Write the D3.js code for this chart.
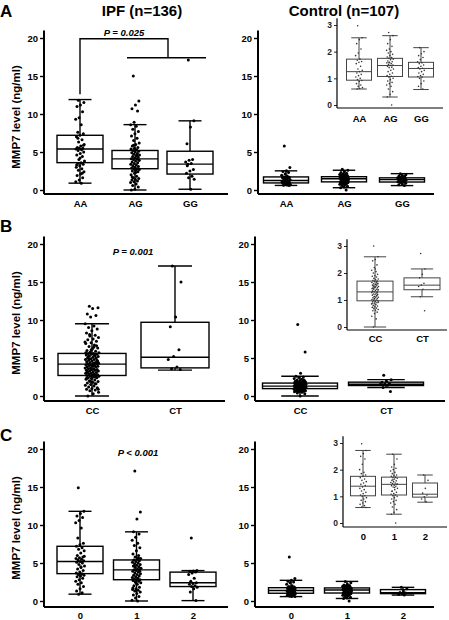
<!DOCTYPE html>
<html><head><meta charset="utf-8">
<script src="https://cdn.jsdelivr.net/npm/d3@7/dist/d3.min.js"></script>
<style>body{margin:0;background:#fff}svg{display:block}</style>
</head><body>
<svg id="c" width="449" height="620"></svg>
<script>
// ---------- DATA ----------
const catsA = ["AA","AG","GG"];
const catsB = ["CC","CT"];
const catsC = ["0","1","2"];
const yTicksMain = [0,5,10,15,20];
const yTicksInset = [0,1,2,3];
const titles = ["IPF (n=136)","Control (n=107)"];
const pLabels = ["P = 0.025","P = 0.001","P < 0.001"];

// box stats: [low whisker, Q1, median, Q3, high whisker]
const statsIpfA = [[0.9,3.6,5.4,7.2,11.9],[0,2.8,4.1,5.2,8.6],[0.1,2.1,3.4,5.1,9.1]];
const statsCtrlA = [[0.6,0.93,1.25,1.72,2.52],[0.3,1.07,1.48,1.75,2.6],[0.58,1.05,1.37,1.6,2.15]];
const statsIpfB = [[0,2.7,4.2,5.6,9.5],[3.4,3.7,5.1,9.7,17.1]];
const statsCtrlB = [[0,0.97,1.3,1.7,2.6],[1.12,1.38,1.55,1.82,2.15]];
const statsIpfC = [[0.9,3.6,5.2,7.2,11.8],[0,2.8,4.1,5.4,9.1],[0.05,1.9,2.4,3.8,4.0]];
const statsCtrlC = [[0.58,1.02,1.38,1.75,2.72],[0.33,1.05,1.45,1.72,2.58],[0.78,0.97,1.08,1.5,1.8]];

// individual values
const ipfAA = [11.8,11.5,11.2,11.0,10.3,9.5,9.3,8.6,7.6,7.4,7.2,7.0,6.6,6.3,6.0,5.8,5.6,5.5,5.5,5.4,5.3,5.2,5.0,4.8,4.6,4.4,4.0,3.8,3.6,3.5,3.4,3.2,3.0,2.8,2.6,2.4,2.1,1.9,1.6,1.3,1.1,0.9,6.8,5.9,4.2,3.3,2.2];
const ipfAG = [15.0,11.7,11.2,10.7,10.4,8.9,8.6,8.4,8.0,7.7,7.4,7.1,6.8,6.5,6.2,6.0,5.8,5.6,5.5,5.4,5.3,5.2,5.1,5.0,4.9,4.8,4.7,4.6,4.5,4.4,4.3,4.2,4.1,4.1,4.0,3.9,3.8,3.7,3.6,3.5,3.4,3.3,3.2,3.1,3.0,2.9,2.8,2.8,2.7,2.6,2.5,2.4,2.2,2.0,1.8,1.6,1.5,1.4,1.3,1.2,1.1,1.0,0.8,0.6,0.4,0.1,0.0,4.6,5.9,3.9,2.3,1.7];
const ipfGG = [17.1,9.1,8.3,6.1,4.0,3.9,3.7,3.5,3.4,2.7,2.5,2.2,1.8,1.6,1.4,0.1,3.2];
const ctrlAA = [5.8,2.97,2.52,2.45,2.3,2.1,1.95,1.85,1.72,1.68,1.63,1.6,1.55,1.45,1.35,1.3,1.25,1.2,1.15,1.1,1.05,1.0,0.95,0.92,0.88,0.8,0.75,0.7,0.65,0.62,0.6];
const ctrlAG = [2.72,2.6,2.45,2.3,2.2,2.1,2.05,2.0,1.95,1.9,1.85,1.8,1.78,1.75,1.72,1.7,1.65,1.62,1.6,1.58,1.55,1.52,1.5,1.48,1.45,1.42,1.4,1.35,1.3,1.25,1.2,1.15,1.1,1.08,1.05,1.0,0.95,0.9,0.85,0.8,0.75,0.7,0.6,0.5,0.4,0.3,0.0,1.58];
const ctrlGG = [2.15,2.0,1.92,1.85,1.78,1.7,1.62,1.58,1.55,1.5,1.45,1.4,1.38,1.35,1.3,1.25,1.2,1.15,1.1,1.07,1.05,1.0,0.9,0.8,0.7,0.6];
const ipfCC = [11.8,11.6,11.5,10.8,10.6,10.4,9.5,9.2,9.0,8.8,8.6,8.3,8.0,7.9,7.7,7.5,7.4,7.2,7.0,6.9,6.7,6.5,6.3,6.2,6.0,5.9,5.8,5.7,5.6,5.6,5.5,5.5,5.4,5.3,5.3,5.2,5.1,5.0,5.0,4.9,4.8,4.8,4.7,4.6,4.6,4.5,4.4,4.4,4.3,4.3,4.2,4.2,4.1,4.1,4.0,4.0,3.9,3.9,3.8,3.8,3.7,3.7,3.6,3.6,3.5,3.5,3.4,3.4,3.3,3.3,3.2,3.2,3.1,3.0,3.0,2.9,2.9,2.8,2.8,2.7,2.7,2.6,2.6,2.5,2.4,2.4,2.3,2.2,2.1,2.0,1.9,1.8,1.7,1.6,1.5,1.4,1.3,1.2,1.1,1.0,0.9,0.8,0.7,0.5,0.3,0.0,6.6,6.1,5.7,5.4,4.9,4.5,3.9,3.1,2.5,1.9,7.1,6.4,5.2,4.7,3.5,2.3,1.6,8.1,0.9,4.0];
const ipfCT = [17.1,15.0,10.4,9.1,6.1,5.2,4.8,3.8,3.6,3.5];
const ctrlCC = [9.4,5.8,3.0,2.6,2.5,2.45,2.3,2.2,2.1,2.05,2.0,1.95,1.9,1.88,1.85,1.8,1.78,1.75,1.72,1.7,1.68,1.65,1.63,1.6,1.6,1.58,1.55,1.55,1.52,1.5,1.5,1.48,1.45,1.45,1.42,1.4,1.4,1.38,1.35,1.32,1.3,1.3,1.28,1.25,1.22,1.2,1.2,1.18,1.15,1.12,1.1,1.1,1.08,1.05,1.05,1.02,1.0,0.98,0.97,0.95,0.93,0.9,0.88,0.85,0.83,0.8,0.78,0.75,0.72,0.7,0.68,0.65,0.62,0.6,0.55,0.5,0.4,0.3,0.0,1.62,1.47,1.33,1.17,1.03,0.92,1.57,1.43,1.27,1.13,0.87,1.67,1.52,1.37,2.15,0.73];
const ctrlCT = [2.72,2.15,1.95,1.82,1.62,1.55,1.5,1.4,1.12,0.6];
const ipf0 = [14.9,11.8,11.5,11.2,11.0,10.6,10.3,9.6,8.3,7.6,7.4,7.2,7.0,6.8,6.6,6.3,6.0,5.8,5.7,5.6,5.5,5.4,5.3,5.2,5.1,5.0,4.8,4.6,4.4,4.2,4.0,3.8,3.7,3.6,3.5,3.4,3.3,3.2,3.0,2.8,2.6,2.4,2.2,1.9,1.6,1.3,1.1,0.9,5.9,4.5];
const ipf1 = [17.1,11.7,10.8,9.1,8.8,8.4,8.0,7.6,7.3,7.0,6.6,6.2,6.0,5.8,5.6,5.5,5.4,5.3,5.2,5.1,5.0,4.9,4.8,4.7,4.6,4.5,4.4,4.3,4.2,4.1,4.1,4.0,3.9,3.8,3.7,3.6,3.5,3.4,3.3,3.2,3.1,3.0,2.9,2.8,2.8,2.7,2.6,2.5,2.4,2.2,2.0,1.8,1.6,1.5,1.4,1.3,1.2,1.0,0.8,0.6,0.4,0.1,0.0,4.6,3.9,2.3,1.7,5.7];
const ipf2 = [8.3,4.0,3.95,3.9,3.8,3.7,3.5,3.0,2.6,2.4,2.3,2.2,2.0,1.9,1.8,1.6,1.2,0.05];
const ctrl0 = [5.8,2.97,2.72,2.6,2.5,2.4,2.2,2.0,1.9,1.85,1.8,1.75,1.7,1.65,1.6,1.55,1.5,1.45,1.4,1.35,1.3,1.25,1.2,1.15,1.1,1.05,1.02,1.0,0.95,0.9,0.85,0.8,0.75,0.7,0.65,0.6,0.58];
const ctrl1 = [2.58,2.4,2.2,2.1,2.05,2.0,1.95,1.9,1.85,1.8,1.78,1.75,1.72,1.7,1.68,1.65,1.6,1.58,1.55,1.52,1.5,1.48,1.45,1.42,1.4,1.38,1.35,1.3,1.25,1.2,1.15,1.1,1.08,1.05,1.02,1.0,0.95,0.9,0.85,0.8,0.75,0.7,0.6,0.5,0.4,0.33,0.0,1.62,1.46,1.33,1.18];
const ctrl2 = [1.8,1.6,1.3,1.12,1.05,0.98,0.9,0.8];

// ---------- DRAWING ----------
const FONT = "'Liberation Sans', Arial, Helvetica, sans-serif";
const svg = d3.select("#c");

function jit(i, spread){ return (((i*0.61803398875 + 0.31) % 1) - 0.5) * 2 * spread; }

function panel(o){
  const g = svg.append("g");
  const y = d3.scaleLinear().domain([0, o.yMax]).range([o.y0, o.yTop]);
  const x = d3.scalePoint().domain(o.cats).range(o.centers);
  // y axis
  const ax = g.append("g").attr("transform",`translate(${o.x0},0)`)
    .call(d3.axisLeft(y).tickValues(o.ticks).tickSize(o.tickLen).tickSizeOuter(0).tickFormat(d3.format("d")));
  ax.select(".domain").remove();
  ax.selectAll(".tick line").attr("stroke","#000").attr("stroke-width",o.axisW*0.7);
  ax.selectAll(".tick text").attr("font-family",FONT).attr("font-weight","bold")
    .attr("font-size",o.tickFs).attr("fill",o.textColor).attr("x",-(o.tickLen+2));
  g.append("line").attr("x1",o.x0).attr("x2",o.x0).attr("y1",y(o.axisTopVal)).attr("y2",o.axisY)
    .attr("stroke","#000").attr("stroke-width",o.axisW);
  g.append("line").attr("x1",o.x0).attr("x2",o.x1).attr("y1",o.axisY).attr("y2",o.axisY)
    .attr("stroke","#000").attr("stroke-width",o.axisW);
  // category labels
  const xa = g.append("g").attr("transform",`translate(0,${o.labelY})`)
    .call(d3.axisBottom(x).tickSize(0).tickPadding(0));
  xa.select(".domain").remove();
  xa.selectAll(".tick text").attr("font-family",FONT).attr("font-weight","bold")
    .attr("font-size",o.catFs).attr("fill","#000").attr("dy","0");
  // boxes
  o.cats.forEach((c,k)=>{
    const s = o.stats[k], cx = x(c), w = o.boxW, cw = w*o.capRatio;
    const bg = g.append("g").attr("stroke",o.boxStroke).attr("stroke-width",o.boxW_stroke).attr("fill","none");
    bg.append("line").attr("x1",cx).attr("x2",cx).attr("y1",y(s[0])).attr("y2",y(s[1]));
    bg.append("line").attr("x1",cx).attr("x2",cx).attr("y1",y(s[3])).attr("y2",y(s[4]));
    bg.append("line").attr("x1",cx-cw/2).attr("x2",cx+cw/2).attr("y1",y(s[0])).attr("y2",y(s[0]));
    bg.append("line").attr("x1",cx-cw/2).attr("x2",cx+cw/2).attr("y1",y(s[4])).attr("y2",y(s[4]));
    bg.append("rect").attr("x",cx-w/2).attr("y",y(s[3])).attr("width",w).attr("height",y(s[1])-y(s[3])).attr("fill","#fff");
    bg.append("line").attr("x1",cx-w/2).attr("x2",cx+w/2).attr("y1",y(s[2])).attr("y2",y(s[2]));
    // points
    const pts = o.points[k].filter(v => v <= o.yMax*1.05);
    g.append("g").selectAll("circle").data(pts).join("circle")
      .attr("cx",(v,i)=>cx + jit(i,o.spread))
      .attr("cy",v=>y(v))
      .attr("r",o.r).attr("fill",o.ptColor);
  });
  return {x,y,g};
}

const mainBase = {yMax:20, ticks:yTicksMain, tickLen:4, tickFs:9.5, catFs:9.5, textColor:"#000",
  axisW:2, boxStroke:"#000", boxW_stroke:1.4, capRatio:0.5, r:1.5, ptColor:"#000", axisTopVal:21};
const insetBase = {yMax:3, ticks:yTicksInset, tickLen:3, tickFs:8.5, catFs:9.5, textColor:"#222",
  axisW:1.2, boxStroke:"#444", boxW_stroke:1, capRatio:0.62, r:0.8, ptColor:"#333", axisTopVal:3.25, spread:3.5};

const rows = [
  {y0:190, yTop:38, axisY:194, labelY:207},
  {y0:396, yTop:244, axisY:401, labelY:414},
  {y0:601, yTop:449, axisY:607, labelY:619}
];

// Row A
const pA = panel(Object.assign({}, mainBase, rows[0], {cats:catsA, stats:statsIpfA, points:[ipfAA,ipfAG,ipfGG],
  x0:44, x1:228, centers:[80,190], boxW:46, spread:4.5}));
panel(Object.assign({}, mainBase, rows[0], {cats:catsA, stats:statsCtrlA, points:[ctrlAA,ctrlAG,ctrlGG],
  x0:258, x1:434, centers:[286,402], boxW:45, spread:4.5}));
panel(Object.assign({}, insetBase, {cats:catsA, stats:statsCtrlA, points:[ctrlAA,ctrlAG,ctrlGG],
  x0:337, x1:443, y0:105, yTop:25, axisY:108, labelY:122, centers:[359,421], boxW:25}));

// Row B
const pB = panel(Object.assign({}, mainBase, rows[1], {cats:catsB, stats:statsIpfB, points:[ipfCC,ipfCT],
  x0:44, x1:225, centers:[92,175], boxW:68, spread:7}));
panel(Object.assign({}, mainBase, rows[1], {cats:catsB, stats:statsCtrlB, points:[ctrlCC,ctrlCT],
  x0:255, x1:445, centers:[300,386], boxW:75, spread:6}));
panel(Object.assign({}, insetBase, {cats:catsB, stats:statsCtrlB, points:[ctrlCC,ctrlCT],
  x0:347, x1:447, y0:327, yTop:246, axisY:330, labelY:342, centers:[375,422], boxW:36}));

// Row C
const pC = panel(Object.assign({}, mainBase, rows[2], {cats:catsC, stats:statsIpfC, points:[ipf0,ipf1,ipf2],
  x0:44, x1:228, centers:[80,193], boxW:46, spread:4.5}));
panel(Object.assign({}, mainBase, rows[2], {cats:catsC, stats:statsCtrlC, points:[ctrl0,ctrl1,ctrl2],
  x0:255, x1:434, centers:[291,403], boxW:45, spread:4.5}));
panel(Object.assign({}, insetBase, {cats:catsC, stats:statsCtrlC, points:[ctrl0,ctrl1,ctrl2],
  x0:343, x1:447, y0:523, yTop:443, axisY:527, labelY:540, centers:[363,425], boxW:25}));

// Titles, panel letters, y labels
svg.append("text").attr("x",142).attr("y",16).attr("text-anchor","middle").attr("font-family",FONT)
  .attr("font-weight","bold").attr("font-size",15).text(titles[0]);
svg.append("text").attr("x",344).attr("y",16).attr("text-anchor","middle").attr("font-family",FONT)
  .attr("font-weight","bold").attr("font-size",15).text(titles[1]);
[["A",17],["B",232],["C",441]].forEach(([t,yy])=>{
  svg.append("text").attr("x",0).attr("y",yy).attr("font-family",FONT).attr("font-weight","bold")
    .attr("font-size",17).text(t);
});
rows.forEach(r=>{
  const cy = (r.y0 + r.yTop)/2 + 3;
  svg.append("text").attr("transform",`translate(20,${cy}) rotate(-90)`).attr("text-anchor","middle")
    .attr("font-family",FONT).attr("font-weight","bold").attr("font-size",11.5).text("MMP7 level (ng/ml)");
});

// P values & bracket
function pText(xx, yy, t){
  svg.append("text").attr("x",xx).attr("y",yy).attr("text-anchor","middle").attr("font-family",FONT)
    .attr("font-weight","bold").attr("font-style","italic").attr("font-size",9.5).text(t);
}
pText(124, 36, pLabels[0]);
pText(133, 255, pLabels[1]);
pText(138, 456, pLabels[2]);
{
  const x = pA.x, y = pA.y;
  const xAA = x("AA"), yTopB = y(19.9), yMid = y(17.4);
  const xj = 168;
  svg.append("path").attr("d",`M${xAA},${y(12.6)}V${yTopB}H${xj}V${yMid}`)
    .attr("fill","none").attr("stroke","#000").attr("stroke-width",1.4);
  svg.append("line").attr("x1",127).attr("x2",206).attr("y1",yMid).attr("y2",yMid)
    .attr("stroke","#000").attr("stroke-width",1.4);
}
</script>
</body></html>
